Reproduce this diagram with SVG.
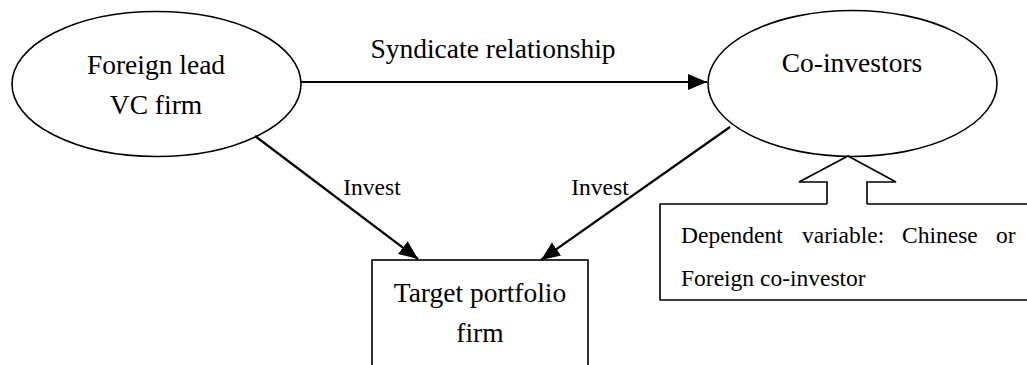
<svg xmlns="http://www.w3.org/2000/svg" width="1027" height="365" viewBox="0 0 1027 365">
  <style>
    .shape { fill: #fff; stroke: #000; stroke-width: 1.6; }
    .edge { fill: none; stroke: #000; stroke-width: 2.2; }
    .big { font-family: "Liberation Serif", "Times New Roman", serif; font-size: 27.5px; fill: #000; text-anchor: middle; }
    .small { font-family: "Liberation Serif", "Times New Roman", serif; font-size: 23.5px; fill: #000; }
  </style>
  <defs>
    <marker id="arrow" markerUnits="userSpaceOnUse" markerWidth="22" markerHeight="18" refX="19" refY="9" orient="auto">
      <path d="M0,1 L19,9 L0,17 Z" fill="#000"/>
    </marker>
  </defs>
  <rect width="1027" height="365" fill="#fff"/>

  <g id="lead">
    <ellipse class="shape" cx="156.5" cy="84" rx="144.5" ry="72.5"/>
    <text class="big" x="156" y="74">Foreign lead</text>
    <text class="big" x="156" y="114">VC firm</text>
  </g>

  <g id="coinvestors">
    <ellipse class="shape" cx="852.5" cy="83.5" rx="144.5" ry="73"/>
    <text class="big" x="852" y="72">Co-investors</text>
  </g>

  <g id="target">
    <rect class="shape" x="372" y="260" width="216" height="110"/>
    <text class="big" x="480" y="302">Target portfolio</text>
    <text class="big" x="480" y="342">firm</text>
  </g>

  <g id="dependent">
    <path class="shape" d="M827,204 H660 V300 H1032 V204 H867"/>
    <path class="shape" d="M827,204 V182 H799 L848,156 L896,182 H867 V204"/>
    <!-- justified first line: each word placed at its own x -->
    <text class="small" y="243"><tspan x="681">Dependent</tspan><tspan x="802">variable:</tspan><tspan x="902">Chinese</tspan><tspan x="996">or</tspan></text>
    <text class="small" x="681" y="286">Foreign co-investor</text>
  </g>

  <g id="connectors">
    <line class="edge" x1="301" y1="82" x2="707" y2="82" marker-end="url(#arrow)"/>
    <text class="big" x="493" y="58">Syndicate relationship</text>
    <line class="edge" x1="255" y1="136" x2="418" y2="259" marker-end="url(#arrow)"/>
    <text class="small" x="372" y="195" text-anchor="middle">Invest</text>
    <line class="edge" x1="730" y1="127" x2="541" y2="260" marker-end="url(#arrow)"/>
    <text class="small" x="600" y="195" text-anchor="middle">Invest</text>
  </g>
</svg>
